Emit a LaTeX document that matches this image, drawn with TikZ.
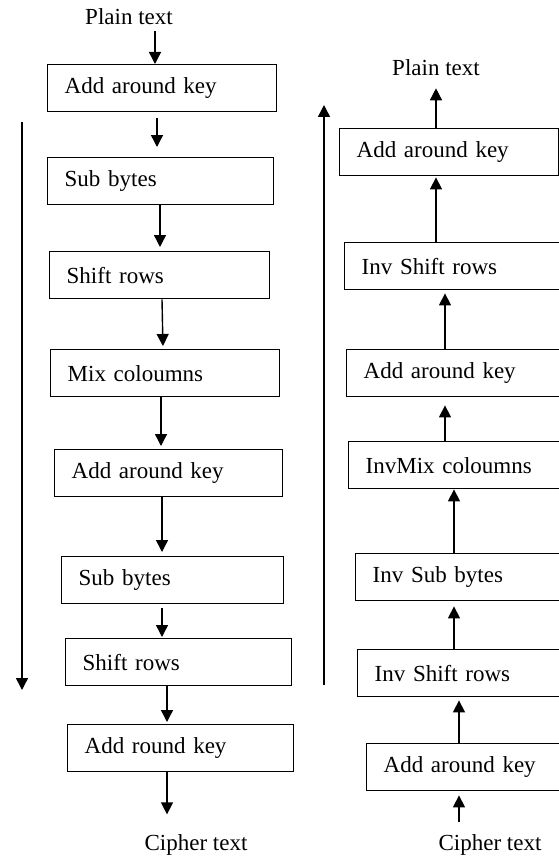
\documentclass[tikz,border=0pt]{standalone}
\usepackage{fontspec}
\setmainfont{Liberation Serif}
\usetikzlibrary{arrows.meta,positioning}
\tikzset{
	>={Triangle[width=12pt,length=12pt]},
	box/.style={draw, line width=1.4pt, anchor=north west, minimum height=47pt,
		inner xsep=17pt, inner ysep=0pt, text width=#1, align=left,
		font=\fontsize{23}{27}\selectfont},
	endtext/.style={font=\fontsize{23}{27}\selectfont, inner sep=2pt},
	flow/.style={->, line width=1.4pt},
}

\begin{document}
\begin{tikzpicture}[x=1pt, y=-1pt]
	\clip (0,0) rectangle (559,856);

	% encryption rounds
	\node[endtext] (plain) at (129,17) {Plain text};
	\node[box=195pt] (enc1) at (47,64) {Add around key};
	\node[box=192pt] (enc2) at (47,157) {Sub bytes};
	\node[box=186pt] (enc3) at (49,251) {Shift rows};
	\node[box=195pt] (enc4) at (50,349) {Mix coloumns};
	\node[box=194pt] (enc5) at (54,449) {Add around key};
	\node[box=188pt] (enc6) at (61,556) {Sub bytes};
	\node[box=192pt] (enc7) at (65,638) {Shift rows};
	\node[box=192pt] (enc8) at (67,724) {Add round key};
	\node[endtext] (cipher) at (196,845) {Cipher text};

	% decryption rounds
	\node[endtext] (plainout) at (436,68) {Plain text};
	\node[box=185pt] (dec1) at (339,128) {Add around key};
	\node[box=196pt] (dec2) at (344,242) {Inv Shift rows};
	\node[box=196pt] (dec3) at (346,349) {Add around key};
	\node[box=196pt] (dec4) at (348,441) {InvMix coloumns};
	\node[box=196pt] (dec5) at (355,553) {Inv Sub bytes};
	\node[box=196pt] (dec6) at (357,649) {Inv Shift rows};
	\node[box=196pt] (dec7) at (366,743) {Add around key};
	\node[endtext] (cipherin) at (490,845) {Cipher text};

	\coordinate (encstart) at (22,122);
	\coordinate (encend) at (22,690);
	\coordinate (decstart) at (324,685);
	\coordinate (decend) at (324,105);

	% downward flow
	\draw[flow, shorten <=4pt] (plain.south -| 155,0) -- (enc1.north -| 155,0);
	\draw[flow, shorten <=6pt, shorten >=10pt] (enc1.south -| 157,0) -- (enc2.north -| 157,0);
	\draw[flow, shorten >=4pt] (enc2.south -| 160,0) -- (enc3.north -| 160,0);
	\draw[flow, shorten >=3pt] (enc3.south -| 162,0) -- (enc4.north -| 163,0);
	\draw[flow, shorten >=3pt] (enc4.south -| 161,0) -- (enc5.north -| 161,0);
	\draw[flow, shorten >=4pt] (enc5.south -| 162,0) -- (enc6.north -| 162,0);
	\draw[flow, shorten <=4pt, shorten >=1pt] (enc6.south -| 162,0) -- (enc7.north -| 162,0);
	\draw[flow, shorten >=2pt] (enc7.south -| 167,0) -- (enc8.north -| 167,0);
	\draw[flow, shorten >=18pt] (enc8.south -| 167,0) -- (cipher.north -| 167,0);
	\draw[flow] (encstart) -- (encend);

	% upward flow
	\draw[flow, shorten <=10pt, shorten >=4pt] (cipherin.north -| 459,0) -- (dec7.south -| 459,0);
	\draw[flow, shorten >=3pt] (dec7.north -| 459,0) -- (dec6.south -| 459,0);
	\draw[flow, shorten >=5pt] (dec6.north -| 454,0) -- (dec5.south -| 454,0);
	\draw[flow] (dec5.north -| 454,0) -- (dec4.south -| 454,0);
	\draw[flow, shorten >=8pt] (dec4.north -| 445,0) -- (dec3.south -| 445,0);
	\draw[flow, shorten >=3pt] (dec3.north -| 445,0) -- (dec2.south -| 445,0);
	\draw[flow, shorten >=1pt] (dec2.north -| 436,0) -- (dec1.south -| 436,0);
	\draw[flow, shorten >=10pt] (dec1.north -| 436,0) -- (plainout.south -| 436,0);
	\draw[flow] (decstart) -- (decend);
\end{tikzpicture}
\end{document}
